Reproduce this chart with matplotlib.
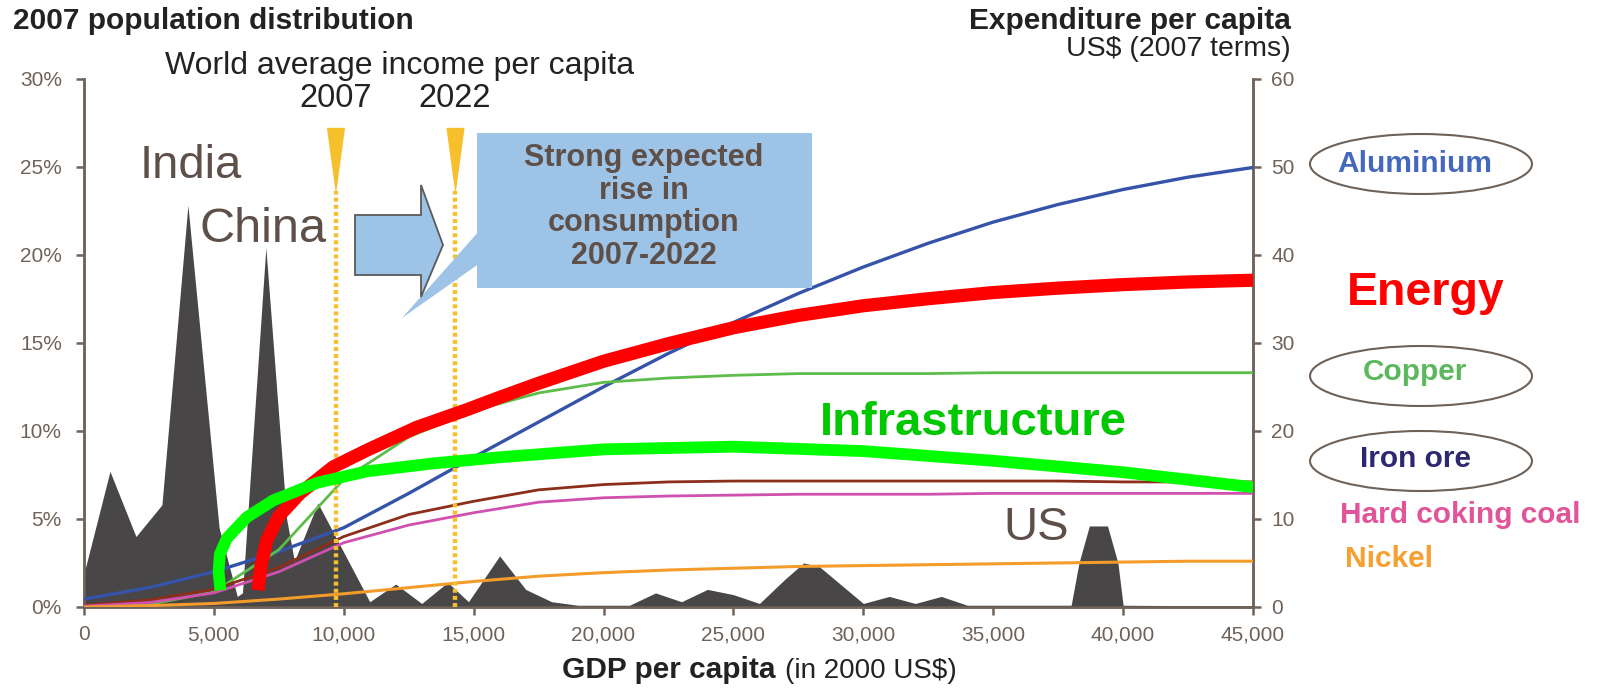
import numpy as np
import matplotlib.pyplot as plt
from matplotlib.patches import Ellipse, Polygon, Rectangle

plt.rcParams['font.family'] = ['Liberation Sans', 'DejaVu Sans']

W, H = 1597, 688

# 2007 population distribution (% of world population by GDP per capita)
pop_gdp = [0, 1000, 2000, 3000, 4000, 5200, 5900, 6100, 7000, 7800, 8100, 9000,
           11000, 12000, 13000, 14000, 14800, 16000, 17000, 18000, 19000, 21000,
           22000, 23000, 24000, 25000, 26000, 27000, 27700, 28300, 30000, 31000,
           32000, 33000, 34000, 38000, 38300, 38700, 39400, 39800, 40000, 45000]
pop_share = [1.9, 7.7, 4.0, 5.8, 22.8, 4.5, 0.6, 0.8, 20.4, 5.0, 2.6, 5.9,
             0.3, 1.3, 0.2, 1.4, 0.3, 2.9, 1.0, 0.3, 0.1, 0.1,
             0.8, 0.3, 1.0, 0.7, 0.2, 1.6, 2.5, 2.3, 0.2, 0.6,
             0.2, 0.6, 0.1, 0.1, 2.5, 4.6, 4.6, 2.5, 0.1, 0.05]

# expenditure per capita by commodity (US$, 2007 terms)
gdp = [0, 2500, 5000, 7500, 10000, 12500, 15000, 17500, 20000, 22500,
       25000, 27500, 30000, 32500, 35000, 37500, 40000, 42500, 45000]
aluminium = [0.9, 2.2, 4.0, 6.3, 9.0, 12.9, 17.0, 21.0, 25.0, 28.8,
             32.3, 35.6, 38.6, 41.3, 43.7, 45.7, 47.4, 48.8, 49.9]
copper = [0.0, 0.3, 1.7, 6.5, 14.5, 19.3, 22.3, 24.3, 25.5, 26.0,
          26.3, 26.5, 26.5, 26.5, 26.6, 26.6, 26.6, 26.6, 26.6]
iron_ore = [0.2, 0.8, 2.0, 4.5, 8.0, 10.5, 12.0, 13.3, 13.9, 14.2,
            14.3, 14.3, 14.3, 14.3, 14.3, 14.3, 14.2, 14.2, 14.2]
coking_coal = [0.1, 0.5, 1.6, 4.0, 7.3, 9.3, 10.7, 11.9, 12.4, 12.6,
               12.7, 12.8, 12.8, 12.8, 12.9, 12.9, 12.9, 12.9, 12.9]
nickel = [0.0, 0.15, 0.4, 0.9, 1.5, 2.2, 2.9, 3.5, 3.9, 4.2,
          4.4, 4.6, 4.7, 4.8, 4.9, 5.0, 5.1, 5.2, 5.2]

energy_gdp = [6700, 6800, 7040, 7500, 8310, 9590, 10890, 12810, 14740, 16000,
              17500, 20000, 22500, 25000, 27500, 30000, 32500, 35000, 37500,
              40000, 42500, 45000]
energy = [1.9, 4.5, 7.6, 10.3, 12.9, 15.9, 17.8, 20.4, 22.4, 23.8,
          25.4, 27.9, 29.9, 31.7, 33.1, 34.2, 35.0, 35.7, 36.2,
          36.6, 36.9, 37.1]
infra_gdp = [5250, 5180, 5230, 5500, 6270, 7280, 8970, 10890, 13430, 16000,
             20000, 25000, 30000, 35000, 40000, 45000]
infra = [1.9, 4.0, 6.0, 7.8, 10.2, 12.1, 14.1, 15.4, 16.3, 17.0,
         17.9, 18.2, 17.7, 16.6, 15.3, 13.6]

income_years = ['2007', '2022']
income_gdp = [9700, 14300]

grey = '#6f6259'
label_grey = '#5e5049'
yellow = '#f5c02c'
box_blue = '#9dc3e6'


def P(x, y):
    # pixel position (from top-left) -> figure fraction
    return x / W, 1 - y / H


fig = plt.figure(figsize=(W / 100, H / 100), dpi=100)
ax = fig.add_axes([84 / W, (H - 607) / H, (1253 - 84) / W, (607 - 78.5) / H])
ax2 = ax.twinx()

ax.fill_between(pop_gdp, pop_share, 0, color='#484646', lw=0, zorder=1)
ax.set_xlim(0, 45000)
ax.set_ylim(0, 30)
ax2.set_ylim(0, 60)

ax.set_xticks(np.arange(0, 45001, 5000))
ax.set_xticklabels([f'{v:,}' for v in range(0, 45001, 5000)])
ax.set_yticks(range(0, 31, 5))
ax.set_yticklabels([f'{v}%' for v in range(0, 31, 5)])
ax2.set_yticks(range(0, 61, 10))

for a in (ax, ax2):
    for s in a.spines.values():
        s.set_color(grey)
        s.set_linewidth(1.8)
    a.spines['top'].set_visible(False)
    a.tick_params(colors=grey, labelsize=15, width=1.8, length=6)
ax.tick_params(axis='y', pad=10)
ax.tick_params(axis='x', pad=7)
ax2.tick_params(axis='y', pad=7)
ax.set_zorder(2)
ax.patch.set_visible(False)
ax2.set_zorder(1)

# commodity lines on the right-hand scale, drawn on the front axes
to_left = lambda v: [u / 2 for u in v]
ax.plot(gdp, to_left(aluminium), color='#3553a8', lw=2.4, zorder=3)
ax.plot(gdp, to_left(copper), color='#5cbd4a', lw=2.0, zorder=3)
ax.plot(gdp, to_left(iron_ore), color='#8b2e1a', lw=2.0, zorder=3)
ax.plot(gdp, to_left(coking_coal), color='#d050b0', lw=2.0, zorder=3)
ax.plot(gdp, to_left(nickel), color='#f39c2b', lw=2.2, zorder=3)

# world average income markers
for yr, g in zip(income_years, income_gdp):
    ax.plot([g, g], [0, 23.6], color=yellow, lw=3.2, ls=(0, (0.9, 0.7)), zorder=6)
    dx = 350
    ax.add_patch(Polygon([[g - dx, 27.2], [g + dx, 27.2], [g, 23.4]],
                         closed=True, color=yellow, lw=0, zorder=6))

ax.plot(energy_gdp, to_left(energy), color='#ff0000', lw=9.5,
        solid_capstyle='butt', solid_joinstyle='round', zorder=7)
ax.plot(infra_gdp, to_left(infra), color='#00ff00', lw=8.5,
        solid_capstyle='butt', solid_joinstyle='round', zorder=8)

# callout box and block arrow (pixel layout)
pts = lambda seq: [P(x, y) for x, y in seq]
fig.patches.append(Polygon(pts([(402, 318), (480, 230), (480, 263)]),
                           closed=True, transform=fig.transFigure,
                           facecolor=box_blue, lw=0, zorder=4))
x0, y0 = P(477, 288)
x1, y1 = P(812, 133)
fig.patches.append(Rectangle((x0, y0), x1 - x0, y1 - y0, transform=fig.transFigure,
                             facecolor=box_blue, lw=0, zorder=4))
fig.patches.append(Polygon(pts([(355, 215), (421, 215), (421, 185), (443, 245),
                                (421, 297), (421, 275), (355, 275)]),
                           closed=True, transform=fig.transFigure,
                           facecolor=box_blue, edgecolor='#5a5a5a', lw=1.3, zorder=4))
fig.text(*P(644, 207), 'Strong expected\nrise in\nconsumption\n2007-2022',
         ha='center', va='center', fontsize=22, fontweight='bold',
         color=label_grey, linespacing=1.12, zorder=5)

# labels around the plot
fig.text(*P(13, 29), '2007 population distribution', fontsize=21.5,
         fontweight='bold', color='#222222', va='baseline')
fig.text(*P(1291, 29), 'Expenditure per capita', fontsize=21.5,
         fontweight='bold', color='#222222', ha='right', va='baseline')
fig.text(*P(1291, 56), 'US$ (2007 terms)', fontsize=20.5,
         color='#222222', ha='right', va='baseline')
fig.text(*P(400, 74), 'World average income per capita', fontsize=23,
         color='#222222', ha='center', va='baseline')
for yr, xp in zip(income_years, [336, 455]):
    fig.text(*P(xp, 107), yr, fontsize=23.5, color='#222222',
             ha='center', va='baseline')

fig.text(*P(140, 178), 'India', fontsize=34, color=label_grey, va='baseline')
fig.text(*P(200, 242), 'China', fontsize=35, color=label_grey, va='baseline')
fig.text(*P(1036, 540), 'US', fontsize=34, color=label_grey,
         ha='center', va='baseline')
fig.text(*P(820, 435), 'Infrastructure', fontsize=34, fontweight='bold',
         color='#00c800', va='baseline', zorder=9)
fig.text(*P(1347, 305), 'Energy', fontsize=33.5, fontweight='bold',
         color='#ff0000', va='baseline')

legend_items = [('Aluminium', '#4468bd', 172, 164), ('Copper', '#5cb85c', 380, 376),
                ('Iron ore', '#2d2870', 467, 461)]
for name, col, base, cy in legend_items:
    fig.patches.append(Ellipse(P(1421, cy), 222 / W, 60 / H, transform=fig.transFigure,
                               facecolor='none', edgecolor='#6f6259', lw=1.5))
    fig.text(*P(1415, base), name, fontsize=21.5, fontweight='bold', color=col,
             ha='center', va='baseline')
fig.text(*P(1340, 523), 'Hard coking coal', fontsize=21.5, fontweight='bold',
         color='#e0559a', va='baseline')
fig.text(*P(1345, 567), 'Nickel', fontsize=21.5, fontweight='bold',
         color='#f5a030', va='baseline')

fig.text(*P(562, 678), 'GDP per capita', fontsize=21.5, fontweight='bold',
         color='#222222', va='baseline')
fig.text(*P(785, 678), '(in 2000 US$)', fontsize=20, color='#222222',
         va='baseline')

fig.savefig('out.png', dpi=100)
